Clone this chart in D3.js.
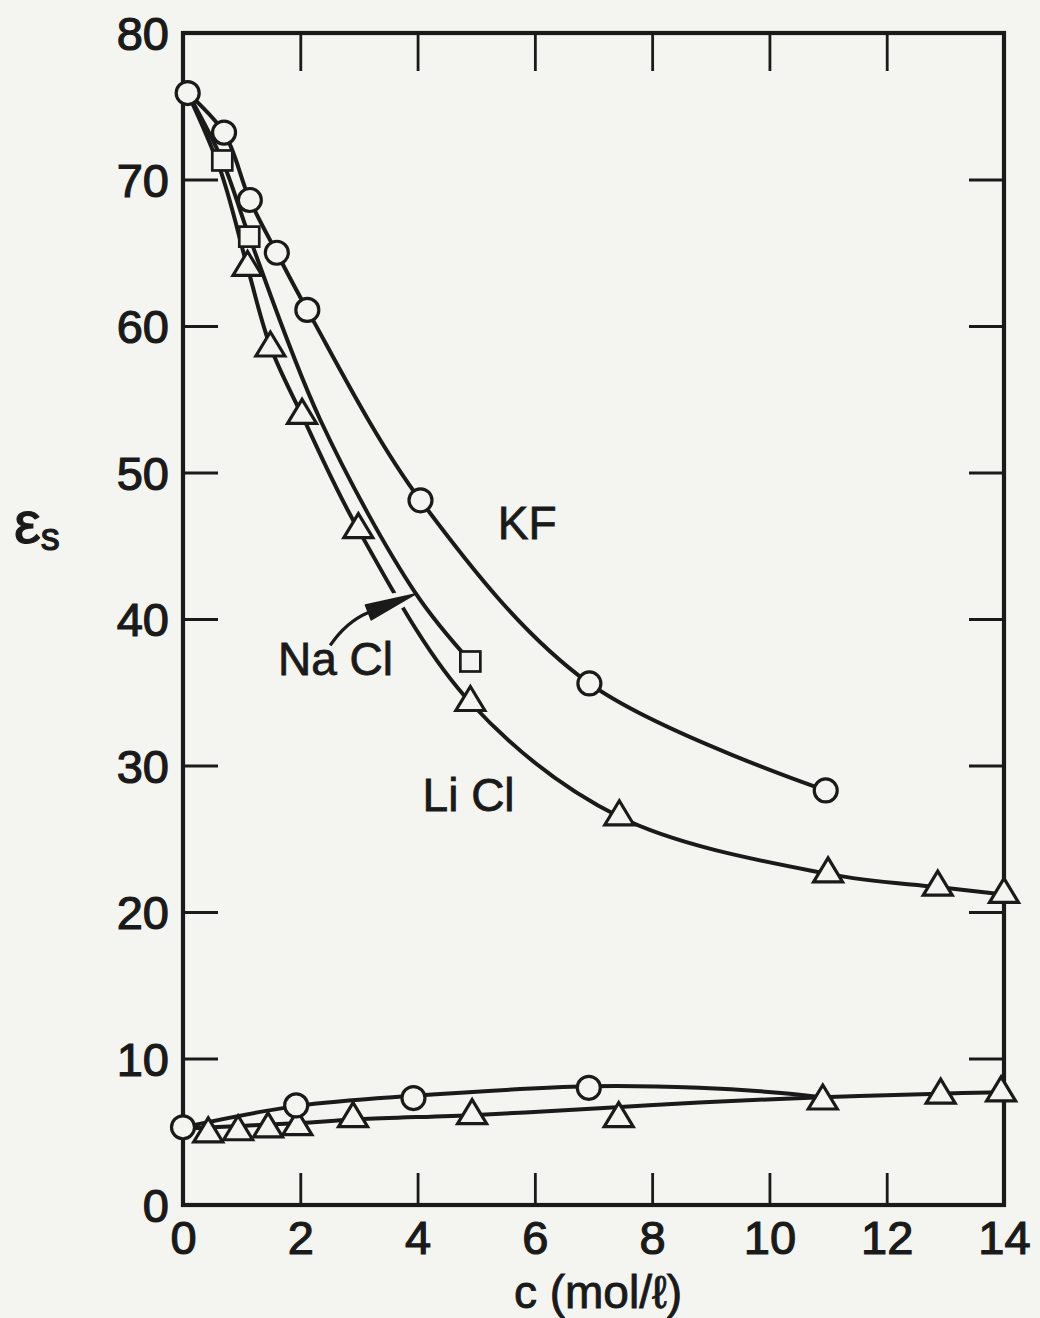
<!DOCTYPE html>
<html>
<head>
<meta charset="utf-8">
<script src="https://cdn.jsdelivr.net/npm/d3@7"></script>
<style>
  html, body { margin: 0; padding: 0; background: #f4f4f0; }
  svg { display: block; }
  text { font-family: "Liberation Sans", Arial, Helvetica, sans-serif; fill: #1a1a1a; }
</style>
</head>
<body>
<script>
// Static dielectric constant of aqueous salt solutions vs. concentration
const xTicks = [0, 2, 4, 6, 8, 10, 12, 14];
const yTicks = [0, 10, 20, 30, 40, 50, 60, 70, 80];

// Measured points [c (mol/l), eps_s]
const kfHigh   = [[0.08, 75.9], [0.7, 73.2], [1.14, 68.6], [1.6, 65.0], [2.12, 61.1], [4.05, 48.1], [6.93, 35.6], [10.96, 28.3]];
const naclHigh = [[0.67, 71.3], [1.13, 66.1], [4.9, 37.1]];
const liclHigh = [[1.1, 64.0], [1.49, 58.5], [2.03, 53.9], [2.99, 46.1], [4.9, 34.3], [7.44, 26.5], [11.0, 22.6], [12.87, 21.7], [14.0, 21.2]];
const kfLow    = [[0, 5.3], [1.93, 6.8], [3.93, 7.3], [6.92, 8.0]];
const liclLow  = [[0.43, 4.85], [0.94, 5.0], [1.45, 5.2], [1.95, 5.35], [2.9, 5.9], [4.93, 6.1], [7.43, 5.9], [10.91, 7.1], [12.92, 7.5], [13.95, 7.65]];

// Smoothed fit curves drawn through the data
const kfHighFit   = [[0.08, 75.9], [0.7, 73.2], [1.14, 68.6], [1.6, 65.0], [2.12, 61.1], [4.05, 48.1], [6.93, 35.6], [10.96, 28.3]];
const naclHighFit = [[0.08, 75.9], [0.67, 71.3], [1.13, 66.1], [2.34, 53.6], [3.96, 41.8], [4.9, 37.1]];
const liclHighFit = [[0.08, 75.9], [0.64, 70.6], [1.1, 64.0], [1.49, 58.6], [2.03, 53.9], [2.99, 46.1], [4.9, 34.3], [7.44, 26.5], [11.0, 22.6], [12.87, 21.7], [14.0, 21.2]];
const kfLowFit    = [[0, 5.3], [1.93, 6.75], [3.93, 7.45], [6.92, 8.1], [8.8, 8.0], [10.2, 7.65], [10.9, 7.35]];
const liclLowFit  = [[0, 5.2], [1, 5.4], [2, 5.6], [3, 5.85], [5, 6.15], [7.1, 6.6], [8.8, 7.0], [10.9, 7.35], [12.9, 7.6], [14, 7.7]];

// Curve labels and the NaCl pointer, in data units
const curveLabels = [
  { text: "KF",    at: [5.87, 46.6] },
  { text: "Na Cl", at: [2.6, 37.3] },
  { text: "Li Cl", at: [4.87, 28.0] }
];
const pointerTail = [2.51, 38.2], pointerCtrl = [2.78, 39.8], pointerBase = [3.16, 40.45], pointerTip = [3.96, 41.7];

const W = 1040, H = 1318;
const ink = "#1a1a1a", paper = "#f4f4f0";

const x = d3.scaleLinear().domain([0, 14]).range([183, 1004]);
const y = d3.scaleLinear().domain([0, 80]).range([1205, 33]);

const svg = d3.select("body").append("svg").attr("width", W).attr("height", H);
svg.append("rect").attr("width", W).attr("height", H).attr("fill", paper);

// Axes: inward ticks on all four sides, labels on bottom and left
const fontSize = 47;
function styleAxis(g) {
  g.select(".domain").remove();
  g.selectAll(".tick line").attr("stroke", ink).attr("stroke-width", 2.8);
  g.selectAll(".tick text")
    .attr("font-size", fontSize)
    .attr("fill", ink)
    .attr("stroke", ink).attr("stroke-width", 1.2);
}
svg.append("g").attr("transform", `translate(0,${y(0)})`)
  .call(d3.axisBottom(x).tickValues(xTicks).tickSize(-32).tickSizeOuter(0).tickPadding(14).tickFormat(d3.format("d")))
  .call(styleAxis)
  .call(g => g.selectAll(".tick text").attr("dy", "0.74em"));
svg.append("g").attr("transform", `translate(${x(0)},0)`)
  .call(d3.axisLeft(y).tickValues(yTicks).tickSize(-35).tickSizeOuter(0).tickPadding(14).tickFormat(d3.format("d")))
  .call(styleAxis)
  .call(g => g.selectAll(".tick text").attr("dy", "0.36em"));
svg.append("g").attr("transform", `translate(0,${y(80)})`)
  .call(d3.axisTop(x).tickValues(xTicks).tickSize(-38).tickSizeOuter(0).tickFormat(""))
  .call(styleAxis);
svg.append("g").attr("transform", `translate(${x(14)},0)`)
  .call(d3.axisRight(y).tickValues(yTicks).tickSize(-35).tickSizeOuter(0).tickFormat(""))
  .call(styleAxis);

// Plot frame
svg.append("rect")
  .attr("x", x(0)).attr("y", y(80))
  .attr("width", x(14) - x(0)).attr("height", y(0) - y(80))
  .attr("fill", "none").attr("stroke", ink).attr("stroke-width", 4.2);

// Fit curves
const line = d3.line().x(d => x(d[0])).y(d => y(d[1])).curve(d3.curveCatmullRom.alpha(0.5));
function drawCurve(data) {
  svg.append("path").attr("d", line(data))
    .attr("fill", "none").attr("stroke", ink).attr("stroke-width", 4)
    .attr("stroke-linejoin", "round").attr("stroke-linecap", "round");
}
drawCurve(liclHighFit);
drawCurve(kfHighFit);
drawCurve(kfLowFit);
drawCurve(liclLowFit);

// Pointer from the "Na Cl" label; a paper-coloured halo breaks the LiCl curve where it crosses
function pointerPath() {
  const p = d3.path();
  p.moveTo(x(pointerTail[0]), y(pointerTail[1]));
  p.quadraticCurveTo(x(pointerCtrl[0]), y(pointerCtrl[1]), x(pointerBase[0]), y(pointerBase[1]));
  return p.toString();
}
function headPath() {
  const bx = x(pointerBase[0]), by = y(pointerBase[1]);
  const tx = x(pointerTip[0]), ty = y(pointerTip[1]);
  const dx = tx - bx, dy = ty - by, len = Math.hypot(dx, dy);
  const nx = -dy / len * 8, ny = dx / len * 8;
  return `M${tx},${ty}L${bx + nx},${by + ny}L${bx - nx},${by - ny}Z`;
}
svg.append("path").attr("d", headPath()).attr("fill", paper).attr("stroke", paper).attr("stroke-width", 11);
svg.append("path").attr("d", pointerPath()).attr("fill", "none").attr("stroke", paper).attr("stroke-width", 10);
drawCurve(naclHighFit);
svg.append("path").attr("d", pointerPath()).attr("fill", "none").attr("stroke", ink).attr("stroke-width", 3.2);
svg.append("path").attr("d", headPath()).attr("fill", ink).attr("stroke", ink).attr("stroke-width", 1.5).attr("stroke-linejoin", "round");

// Markers: hollow circles (KF), squares (NaCl), triangles (LiCl)
const mk = { fill: paper, stroke: ink, sw: 3.2 };
function circles(data) {
  svg.append("g").selectAll("circle").data(data).join("circle")
    .attr("cx", d => x(d[0])).attr("cy", d => y(d[1])).attr("r", 11.5)
    .attr("fill", mk.fill).attr("stroke", mk.stroke).attr("stroke-width", mk.sw);
}
function squares(data) {
  const s = 20;
  svg.append("g").selectAll("rect").data(data).join("rect")
    .attr("x", d => x(d[0]) - s / 2).attr("y", d => y(d[1]) - s / 2)
    .attr("width", s).attr("height", s)
    .attr("fill", mk.fill).attr("stroke", mk.stroke).attr("stroke-width", mk.sw - 0.5);
}
function triangles(data) {
  const half = 14.5, h = 24;
  svg.append("g").selectAll("path").data(data).join("path")
    .attr("d", d => {
      const cx = x(d[0]), cy = y(d[1]);
      return `M${cx},${cy - h * 2 / 3}L${cx + half},${cy + h / 3}L${cx - half},${cy + h / 3}Z`;
    })
    .attr("fill", mk.fill).attr("stroke", mk.stroke).attr("stroke-width", mk.sw).attr("stroke-linejoin", "miter");
}
triangles(liclHigh);
triangles(liclLow);
squares(naclHigh);
circles(kfHigh);
circles(kfLow);

// Curve labels
svg.append("g").selectAll("text").data(curveLabels).join("text")
  .attr("x", d => x(d.at[0])).attr("y", d => y(d.at[1]))
  .attr("text-anchor", "middle").attr("dy", "0.36em")
  .attr("font-size", 46)
  .attr("stroke", ink).attr("stroke-width", 0.8)
  .text(d => d.text);

// Axis titles
const yTitle = svg.append("text").attr("x", 14).attr("y", 543)
  .attr("stroke", ink).attr("stroke-width", 1.2);
yTitle.append("tspan").attr("font-size", 60).text("ε");
yTitle.append("tspan").attr("font-size", 38).attr("dy", 7).text("s");

svg.append("text").attr("x", 598).attr("y", 1308)
  .attr("text-anchor", "middle").attr("font-size", 46)
  .attr("stroke", ink).attr("stroke-width", 0.9)
  .text("c  (mol/ℓ)");
</script>
</body>
</html>
